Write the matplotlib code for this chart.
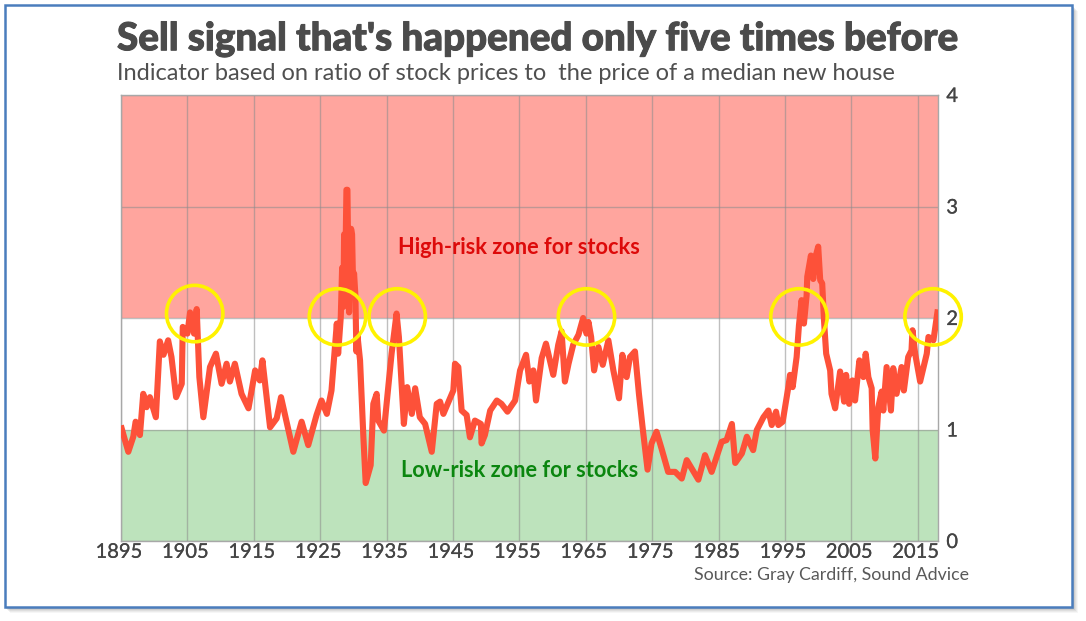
import matplotlib
matplotlib.use("Agg")
import matplotlib.pyplot as plt
import matplotlib.patheffects as pe
from matplotlib.patches import Rectangle
from matplotlib.transforms import ScaledTranslation

plt.rcParams['font.family'] = ['Lato', 'DejaVu Sans']

W, H = 1086, 621

years = [1895.1,1895.45,1896.1,1896.85,1897.2,1897.85,1898.35,1898.85,1899.35,1900.25,1900.85,1901.4,1902.1,1902.6,1903.3,1904.15,1904.3,1905.0,1905.4,1906.0,1906.4,1906.8,1907.4,1908.4,1909.3,1910.15,1910.9,1911.4,1912.15,1913.15,1914.2,1915.2,1915.9,1916.3,1917.45,1918.45,1919.1,1920.95,1922.2,1923.2,1924.45,1925.2,1926.0,1926.7,1927.5,1927.7,1928.1,1928.3,1928.5,1928.6,1928.75,1928.95,1929.1,1929.25,1929.35,1929.5,1929.65,1929.8,1929.95,1930.1,1930.3,1930.45,1930.6,1931.0,1931.5,1931.85,1932.6,1933.0,1933.5,1933.75,1934.6,1935.75,1936.5,1936.85,1937.6,1938.1,1938.8,1939.3,1940.0,1940.8,1941.8,1942.55,1943.05,1943.55,1945.05,1945.3,1945.8,1946.3,1947.05,1947.55,1948.3,1949.2,1949.3,1949.8,1950.6,1951.6,1952.3,1953.2,1954.35,1955.1,1956.0,1956.5,1957.1,1957.5,1958.35,1959.0,1960.1,1960.85,1961.35,1961.85,1962.4,1963.1,1963.9,1964.6,1965.1,1965.4,1965.8,1966.25,1966.9,1967.55,1968.4,1969.15,1970.0,1970.5,1971.15,1971.65,1972.4,1973.0,1973.55,1974.3,1974.9,1975.65,1976.4,1977.4,1978.45,1979.45,1980.2,1981.95,1982.95,1983.95,1985.45,1986.2,1987.0,1987.5,1988.5,1989.25,1990.2,1990.75,1991.75,1992.5,1993.0,1993.65,1994.0,1994.65,1995.5,1995.75,1996.15,1996.75,1997.1,1997.5,1997.85,1998.25,1998.35,1998.9,1999.25,1999.6,2000.0,2000.3,2000.6,2000.87,2001.2,2001.8,2002.0,2002.55,2003.3,2003.9,2004.2,2004.65,2005.15,2005.55,2006.2,2006.8,2007.15,2007.55,2008.05,2008.2,2008.6,2009.05,2009.55,2009.8,2010.3,2010.95,2011.3,2011.8,2012.55,2012.9,2013.55,2014.05,2014.2,2014.6,2015.35,2016.35,2016.6,2017.35,2017.95]
values = [1.01,.935,.80,.935,1.07,.95,1.32,1.20,1.29,1.11,1.79,1.67,1.80,1.65,1.29,1.41,1.92,1.86,2.05,1.86,2.08,1.47,1.11,1.56,1.68,1.41,1.59,1.43,1.59,1.32,1.19,1.53,1.44,1.62,1.02,1.10,1.29,.80,1.07,.86,1.13,1.26,1.14,1.35,1.95,1.68,2.01,2.45,2.1,2.75,2.3,3.15,3.15,2.4,2.05,2.5,2.8,2.75,2.3,2.4,2.2,1.7,1.85,1.62,.935,.52,.68,1.23,1.32,1.08,.99,1.68,2.04,1.83,1.05,1.38,1.14,1.37,1.11,1.05,.80,1.23,1.25,1.14,1.35,1.59,1.56,1.17,1.13,.93,1.08,1.05,.875,.95,1.17,1.26,1.23,1.16,1.26,1.53,1.67,1.43,1.53,1.26,1.64,1.77,1.49,1.76,1.88,1.43,1.59,1.76,1.85,2.0,1.86,1.965,1.83,1.53,1.74,1.58,1.80,1.53,1.28,1.67,1.47,1.65,1.70,1.32,1.02,.64,.875,.98,.83,.62,.62,.56,.725,.55,.77,.62,.89,.905,1.05,.70,.785,.935,.815,.995,1.11,1.17,1.04,1.16,1.04,1.07,1.38,1.49,1.38,1.65,1.935,2.16,1.95,2.20,2.37,2.56,2.35,2.55,2.64,2.34,2.31,1.98,1.68,1.53,1.32,1.19,1.52,1.25,1.49,1.23,1.44,1.26,1.62,1.47,1.68,1.47,1.37,.995,.74,1.20,1.34,1.17,1.56,1.17,1.55,1.32,1.56,1.35,1.65,1.71,1.89,1.68,1.43,1.68,1.83,1.80,2.05]

signal_years = [1906.1, 1927.6, 1936.6, 1965.1, 1997.1, 2017.3]
signal_values = [2.04, 2.01, 2.01, 2.01, 2.01, 2.01]

x_ticks = [1895, 1905, 1915, 1925, 1935, 1945, 1955, 1965, 1975, 1985, 1995, 2005, 2015]
y_ticks = [0, 1, 2, 3, 4]

title = "Sell signal that's happened only five times before"
subtitle = "Indicator based on ratio of stock prices to  the price of a median new house"
source = "Source: Gray Cardiff, Sound Advice"
high_label = "High-risk zone for stocks"
low_label = "Low-risk zone for stocks"

fig = plt.figure(figsize=(W / 100, H / 100), dpi=100, facecolor='white')

# picture frame with soft shadow
for i, a in enumerate([0.05, 0.07, 0.09, 0.12, 0.16]):
    off = 5 - i
    fig.add_artist(Rectangle(((5 + off) / W, 1 - (607 + off + 1) / H),
                             (1067 + 1) / W, 602 / H, transform=fig.transFigure,
                             facecolor='#606060', edgecolor='none', alpha=a, zorder=-5))
fig.add_artist(Rectangle((5 / W, 1 - 607 / H), 1067 / W, 602 / H, transform=fig.transFigure,
                         facecolor='white', edgecolor='#4a7dbd', linewidth=1.8, zorder=-4))

ax = fig.add_axes([121 / W, 1 - 541 / H, 817 / W, 446 / H])
ax.set_zorder(5)
ax.set_xlim(1895, 2018.04)
ax.set_ylim(0, 4)
ax.axhspan(2, 4, color='#ffa59e', lw=0, zorder=0)
ax.axhspan(0, 1, color='#bde3bc', lw=0, zorder=0)
ax.set_xticks(x_ticks)
ax.set_yticks(y_ticks)
ax.grid(True, color='#8c8c8c', alpha=0.55, lw=1.0, zorder=1)
ax.set_axisbelow(True)
ax.yaxis.tick_right()
ax.tick_params(length=0, labelsize=14.5, labelcolor='#444444')
ax.tick_params(axis='x', pad=2)
ax.tick_params(axis='y', pad=6)
shift = ScaledTranslation(-1.5 / 72, 0, fig.dpi_scale_trans)
for lab in ax.get_xticklabels():
    lab.set_transform(lab.get_transform() + shift)
    lab.set_path_effects([pe.withStroke(linewidth=0.15, foreground='#444444')])
for lab in ax.get_yticklabels():
    lab.set_path_effects([pe.withStroke(linewidth=0.15, foreground='#444444')])
for s in ax.spines.values():
    s.set_color('#a8a8a8')
    s.set_linewidth(1.0)

ax.plot(years, values, color='#fd5139', lw=4.4, solid_joinstyle='round', zorder=3)
ax.scatter(signal_years, signal_values, s=1650, facecolors='none', edgecolors='#fff200',
           linewidths=2.6, clip_on=False, zorder=4)

ax.text(1955, 2.63, high_label, color='#dd0a0a', fontsize=15.7, fontweight='bold', ha='center', va='center')
ax.text(1955, 0.63, low_label, color='#0b860f', fontsize=15.7, fontweight='bold', ha='center', va='center')

t = fig.text(117 / W, 1 - 39 / H, title, color='#4b4b4b', fontsize=27.8, fontweight='black', ha='left', va='center')
t.set_path_effects([pe.withStroke(linewidth=0.7, foreground='#4b4b4b')])
fig.text(117 / W, 1 - 74 / H, subtitle, color='#4f4f4f', fontsize=17.05, ha='left', va='center')
fig.text(969 / W, 1 - 575 / H, source, color='#595959', fontsize=12.8, ha='right', va='center')

fig.savefig('out.png', dpi=100)
